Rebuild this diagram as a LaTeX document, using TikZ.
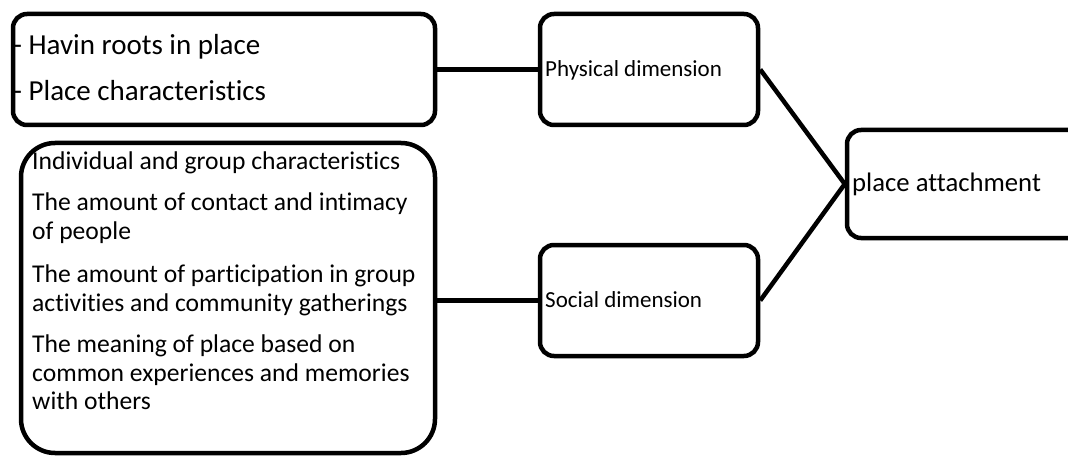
\documentclass[tikz,border=0pt]{standalone}
\usepackage{fontspec}
\setmainfont{Carlito}[Ligatures={NoCommon,NoRare,NoContextual},RawFeature={-liga;-clig;-dlig}]
\begin{document}
\begin{tikzpicture}[x=1pt,y=-1pt,
  box/.style={draw=black, line width=4.5pt, rounded corners=14pt, inner sep=0pt},
  bigbox/.style={box, rounded corners=34pt},
  conn/.style={draw=black, line width=4.5pt},
  txt/.style={anchor=base west, inner sep=0pt, text=black},
  big/.style={txt, font=\fontsize{29}{35}\selectfont},
  mid/.style={txt, font=\fontsize{25.6}{29}\selectfont},
  lab/.style={txt, font=\fontsize{23}{28}\selectfont},
  lab2/.style={txt, font=\fontsize{26.7}{32}\selectfont}]
\useasboundingbox (0,0) rectangle (1068,457);
\clip (0,0) rectangle (1068,457);
% boxes
\node[box, minimum width=422pt, minimum height=111pt] (b1) at (224,69.5) {};
\node[box, minimum width=218pt, minimum height=111pt] (b2) at (649,69.5) {};
\node[box, minimum width=253pt, minimum height=108pt] (b3) at (973.5,184) {};
\node[bigbox, minimum width=414pt, minimum height=310pt] (b4) at (228,298) {};
\node[box, minimum width=218pt, minimum height=111pt] (b5) at (649,300.5) {};
% connectors
\draw[conn] (b1.east) -- (b2.west);
\draw[conn] (b5.west) -- (b5.west -| b4.east);
\draw[conn] (b2.east) -- (b3.west);
\draw[conn] (b5.east) -- (b3.west);
% texts
\node[big] (t11) at (13,55) {- Havin roots in place};
\node[big] (t12) at (13,101) {- Place characteristics};
\node[lab] (t2) at (545,77) {Physical dimension};
\node[lab2] (t3) at (852,192) {place attachment};
\node[lab] (t5) at (545,307) {Social dimension};
\node[mid] (t41) at (32,170) {Individual and group characteristics};
\node[mid] (t42) at (32,211) {The amount of contact and intimacy};
\node[mid] (t43) at (32,240) {of people};
\node[mid] (t44) at (32,282) {The amount of participation in group};
\node[mid] (t45) at (32,311) {activities and community gatherings};
\node[mid] (t46) at (32,352) {The meaning of place based on};
\node[mid] (t47) at (32,381) {common experiences and memories};
\node[mid] (t48) at (32,409) {with others};
\end{tikzpicture}
\end{document}
